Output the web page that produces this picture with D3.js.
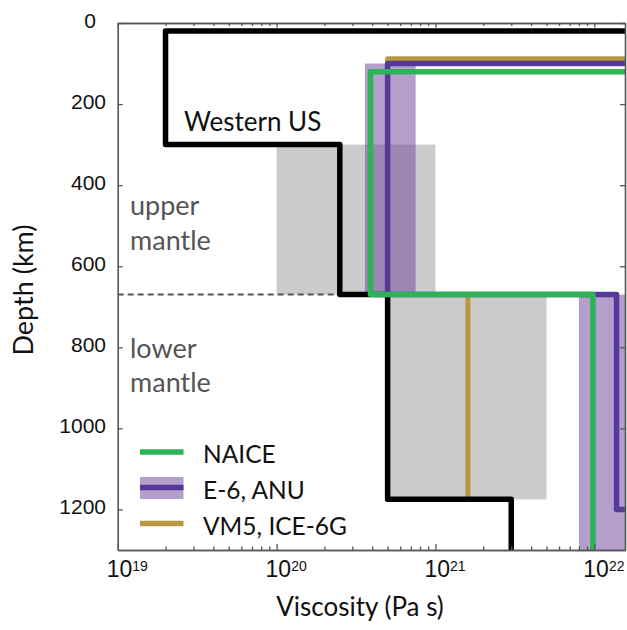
<!DOCTYPE html>
<html><head><meta charset="utf-8">
<script src="https://cdn.jsdelivr.net/npm/d3@7"></script>
<style>body{margin:0;background:#fff} svg{display:block}</style>
</head><body><svg id="c" width="627" height="630"></svg>
<script>
// ---- data ----
const depthTicks = [0, 200, 400, 600, 800, 1000, 1200];
const viscDecades = [19, 20, 21, 22];
const lithVisc = 1e24;            // lithosphere (off-scale, drawn to right edge)
const maxDepth = 1300;
const boundaryDepth = 670;

const wusTop  = [20, 300, 670, 1175];
const wusVisc = [2e19, 2.5e20, 5e20, 3e21];
const wusBottom = 1300;

const naiceTop  = [120, 670];
const naiceVisc = [3.9e20, 9.8e21];
const naiceBottom = 1300;

const e6Top  = [100, 670, 1200];
const e6Visc = [5e20, 1.38e22, 3e22];
const e6Bottom = 1300;

const vm5Top  = [88, 670];
const vm5Visc = [5e20, 1.6e21];
const vm5Bottom = 1175;

const grayTop = [300, 670], grayBottom = [670, 1175], grayLo = [1e20, 5e20], grayHi = [1e21, 5e21];
const e6RangeTop = [100, 670], e6RangeBottom = [670, 1300], e6RangeLo = [3.6e20, 8e21], e6RangeHi = [7.5e20, 3e22];

const legendNames = ["NAICE", "E-6, ANU", "VM5, ICE-6G"];

// ---- setup ----
const svg = d3.select("#c");
const L = 117.7, R = 625, T = 23, B = 550;
const x = d3.scaleLog().domain([1e19, 1.56e22]).range([L, R]);
const y = d3.scaleLinear().domain([0, maxDepth]).range([T, B]);

const COL = {green: "#2db257", purple: "#54399a", shade: "#6a3d9a", gold: "#b8993f", gray: "#cccccc", axis: "#555"};
const MYR = "Lato, 'Open Sans', sans-serif";
const HEL = "'Liberation Sans', Arial, sans-serif";

svg.append("defs").append("clipPath").attr("id", "clip")
  .append("rect").attr("x", L).attr("y", T).attr("width", R - L).attr("height", B - T);
const plot = svg.append("g").attr("clip-path", "url(#clip)");

// gray ranges
plot.selectAll("rect.gray").data(grayTop).join("rect").attr("class", "gray")
  .attr("x", (d, i) => x(grayLo[i])).attr("width", (d, i) => x(grayHi[i]) - x(grayLo[i]))
  .attr("y", d => y(d)).attr("height", (d, i) => y(grayBottom[i]) - y(d))
  .attr("fill", COL.gray);

// E-6 ranges
plot.selectAll("rect.e6r").data(e6RangeTop).join("rect").attr("class", "e6r")
  .attr("x", (d, i) => x(e6RangeLo[i])).attr("width", (d, i) => x(e6RangeHi[i]) - x(e6RangeLo[i]))
  .attr("y", d => y(d)).attr("height", (d, i) => y(e6RangeBottom[i]) - y(d))
  .attr("fill", COL.shade).attr("fill-opacity", 0.5);

// boundary dashed line (to Western US profile)
plot.append("line").attr("x1", L).attr("x2", x(wusVisc[1]))
  .attr("y1", y(boundaryDepth)).attr("y2", y(boundaryDepth))
  .attr("stroke", COL.axis).attr("stroke-width", 2).attr("stroke-dasharray", "6,4");

function stepPoints(tops, visc, bottom) {
  const pts = [[lithVisc, tops[0]]];
  tops.forEach((t, i) => {
    pts.push([visc[i], t]);
    pts.push([visc[i], i < tops.length - 1 ? tops[i + 1] : bottom]);
  });
  return pts;
}
const line = d3.line().x(d => x(d[0])).y(d => y(d[1]));
function drawProfile(tops, visc, bottom, color, w) {
  plot.append("path").attr("d", line(stepPoints(tops, visc, bottom)))
    .attr("fill", "none").attr("stroke", color).attr("stroke-width", w)
    .attr("stroke-linejoin", "round");
}
drawProfile(vm5Top, vm5Visc, vm5Bottom, COL.gold, 5);
drawProfile(wusTop, wusVisc, wusBottom, "#000", 5.5);
drawProfile(e6Top, e6Visc, e6Bottom, COL.purple, 5.5);
drawProfile(naiceTop, naiceVisc, naiceBottom, COL.green, 5.5);

// ---- axes ----
const minorTicks = [];
viscDecades.slice(0, 3).forEach(p => { for (let k = 2; k <= 9; k++) minorTicks.push(k * Math.pow(10, p)); });
const majorTicks = viscDecades.map(p => Math.pow(10, p));

function styleAxis(g) {
  g.select(".domain").attr("stroke", COL.axis).attr("stroke-width", 1.6);
  g.selectAll(".tick line").attr("stroke", COL.axis).attr("stroke-width", 1.3);
}
// bottom
const gb = svg.append("g").attr("transform", `translate(0,${B})`);
gb.call(d3.axisBottom(x).tickValues(minorTicks).tickSizeInner(-3.5).tickSizeOuter(0).tickFormat(""));
const gbM = svg.append("g").attr("transform", `translate(0,${B})`);
gbM.call(d3.axisBottom(x).tickValues(majorTicks).tickSizeInner(-6).tickSizeOuter(0).tickFormat(""));
[gb, gbM].forEach(styleAxis);
// x tick labels 10^n
const xl = svg.append("g");
majorTicks.forEach(d => {
  const t = xl.append("text").attr("x", x(d) - 11).attr("y", B + 26.7)
    .style("font-family", HEL).style("font-size", "23px").attr("fill", "#111");
  t.append("tspan").text("10");
  t.append("tspan").attr("dy", -6).style("font-size", "14px").text(Math.round(Math.log10(d)));
});
// top
const gt = svg.append("g").attr("transform", `translate(0,${T})`);
gt.call(d3.axisTop(x).tickValues(minorTicks).tickSizeInner(-3).tickSizeOuter(0).tickFormat(""));
const gtM = svg.append("g").attr("transform", `translate(0,${T})`);
gtM.call(d3.axisTop(x).tickValues(majorTicks).tickSizeInner(-4.5).tickSizeOuter(0).tickFormat(""));
[gt, gtM].forEach(styleAxis);
// left
const gl = svg.append("g").attr("transform", `translate(${L},0)`);
gl.call(d3.axisLeft(y).tickValues(depthTicks).tickSizeInner(-5).tickSizeOuter(0).tickPadding(11.7).tickFormat(d3.format("d")));
styleAxis(gl);
gl.selectAll(".tick text").style("font-family", HEL).style("font-size", "21px").attr("fill", "#111")
  .attr("dy", "0.2em").attr("dx", d => d === 0 ? -10 : 0);
// right
const gr = svg.append("g").attr("transform", `translate(${R},0)`);
gr.call(d3.axisRight(y).tickValues(depthTicks).tickSizeInner(-5).tickSizeOuter(0).tickFormat(""));
styleAxis(gr);

// ---- titles ----
svg.append("text").attr("x", 360).attr("y", 616).attr("text-anchor", "middle")
  .style("font-family", MYR).style("font-size", "26px").attr("fill", "#111").text("Viscosity (Pa s)");
svg.append("text").attr("transform", `translate(33,290) rotate(-90)`).attr("text-anchor", "middle")
  .style("font-family", MYR).style("font-size", "27px").attr("fill", "#111").text("Depth (km)");

// ---- annotations ----
svg.append("text").attr("x", 184).attr("y", 131).style("font-family", MYR).style("font-size", "26px")
  .attr("fill", "#111").text("Western US");
const ann = [["upper", 215], ["mantle", 250], ["lower", 358], ["mantle", 392]];
svg.selectAll("text.ann").data(ann).join("text").attr("class", "ann")
  .attr("x", 130).attr("y", d => d[1]).style("font-family", MYR).style("font-size", "27px")
  .attr("fill", "#555").text(d => d[0]);

// ---- legend ----
const legY = [452, 487.5, 523.5];
const legColors = [COL.green, COL.purple, COL.gold];
const lg = svg.append("g");
lg.append("rect").attr("x", 140).attr("width", 43.5).attr("y", legY[1] - 10.5).attr("height", 22)
  .attr("fill", COL.shade).attr("fill-opacity", 0.5);
lg.selectAll("line").data(legendNames).join("line")
  .attr("x1", 140).attr("x2", 183.5).attr("y1", (d, i) => legY[i]).attr("y2", (d, i) => legY[i])
  .attr("stroke", (d, i) => legColors[i]).attr("stroke-width", 5.5);
lg.selectAll("text").data(legendNames).join("text")
  .attr("x", 203).attr("y", (d, i) => legY[i] + 11).style("font-family", MYR).style("font-size", "24.5px")
  .attr("fill", "#111").text(d => d);
</script></body></html>
